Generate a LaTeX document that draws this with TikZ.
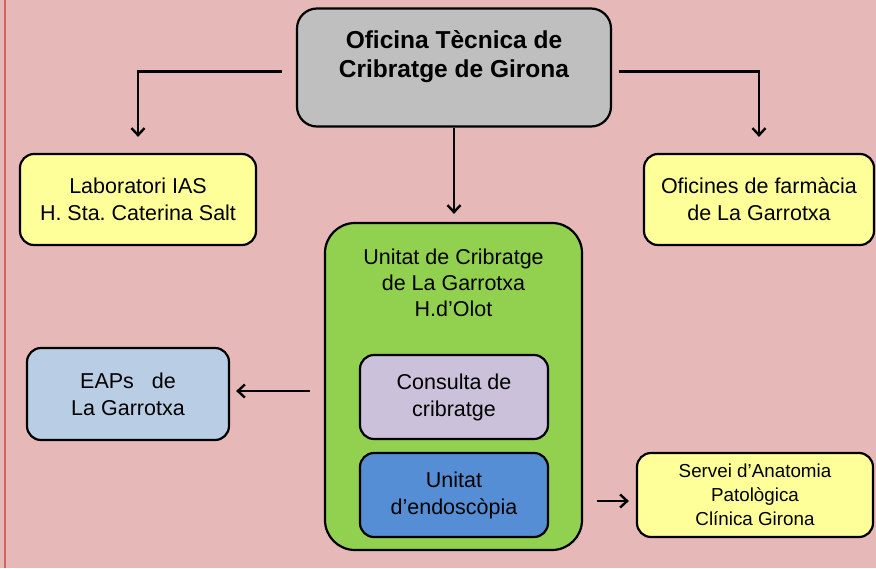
\documentclass[tikz,border=0pt]{standalone}
\usepackage{fontspec}
\setmainfont{Liberation Sans}
\usepackage{tikz}
\usetikzlibrary{arrows.meta}
\usepackage{xcolor}
\frenchspacing

\definecolor{bgpink}{HTML}{E6B9B8}
\definecolor{edgered}{HTML}{D06462}
\definecolor{boxgray}{HTML}{BFBFBF}
\definecolor{boxyellow}{HTML}{FFFF99}
\definecolor{boxgreen}{HTML}{92D050}
\definecolor{boxlilac}{HTML}{CCC1DA}
\definecolor{boxblue}{HTML}{558ED5}
\definecolor{boxsky}{HTML}{B9CDE5}

\begin{document}
\begin{tikzpicture}[x=1pt,y=-1pt,
    box/.style={draw=black,line width=2.2pt,rounded corners=14pt,inner sep=0pt,
        align=center,font=\fontsize{21.5}{27}\selectfont},
    arr/.style={line width=2.4pt,-{Straight Barb[length=7pt,width=13pt]}}]
    \useasboundingbox (0,0) rectangle (876,568);
    \fill[bgpink] (0,0) rectangle (876,568);
    \draw[edgered,line width=1.8pt] (5,0) -- (5,568);

    \node[box,fill=boxgray,rounded corners=20pt,minimum width=314,minimum height=118] (otg) at (454,67.5) {};
    \node[font=\bfseries\fontsize{24.5}{29}\selectfont,align=center] (otgtext) at (454,57) {Oficina Tècnica de\\Cribratge de Girona};
    \node[box,fill=boxyellow,minimum width=236,minimum height=91] (lab) at (138,199.5) {Laboratori IAS\\H. Sta. Caterina Salt};
    \node[box,fill=boxyellow,minimum width=230,minimum height=91] (ofi) at (759,199.5) {Oficines de farmàcia\\de La Garrotxa};
    \node[box,fill=boxgreen,rounded corners=30pt,minimum width=257,minimum height=327] (ucg) at (453.5,386.5) {};
    \node[font=\fontsize{21.5}{26}\selectfont,align=center] (ucgtext) at (453.5,283) {Unitat de Cribratge\\de La Garrotxa\\H.d’Olot};
    \node[box,fill=boxlilac,minimum width=188,minimum height=84] (con) at (454,397) {Consulta de\\cribratge};
    \node[box,fill=boxblue,minimum width=188,minimum height=84] (endo) at (454,495) {Unitat\\d’endoscòpia};
    \node[box,fill=boxsky,minimum width=202,minimum height=92] (eap) at (128,394) {EAPs\ \ \ de\\La Garrotxa};
    \node[box,fill=boxyellow,minimum width=236,minimum height=84,font=\fontsize{18.8}{24}\selectfont] (ser) at (755,495) {Servei d’Anatomia\\Patològica\\Clínica Girona};

    \draw[arr,shorten >=16pt] ([xshift=-14pt,yshift=-4pt]otg.west) -| (lab.north);
    \draw[arr,shorten >=16pt] ([xshift=7pt,yshift=-4pt]otg.east) -| (ofi.north);
    \draw[arr,shorten >=8pt] (otg.south) -- (otg.south |- ucg.north);
    \draw[arr,shorten <=14pt,shorten >=6pt] ([yshift=3pt]ucg.west |- eap.east) -- ([yshift=3pt]eap.east);
    \draw[arr,shorten <=14pt,shorten >=7pt] ([yshift=-6pt]ucg.east |- ser.west) -- ([yshift=-6pt]ser.west);
\end{tikzpicture}
\end{document}
